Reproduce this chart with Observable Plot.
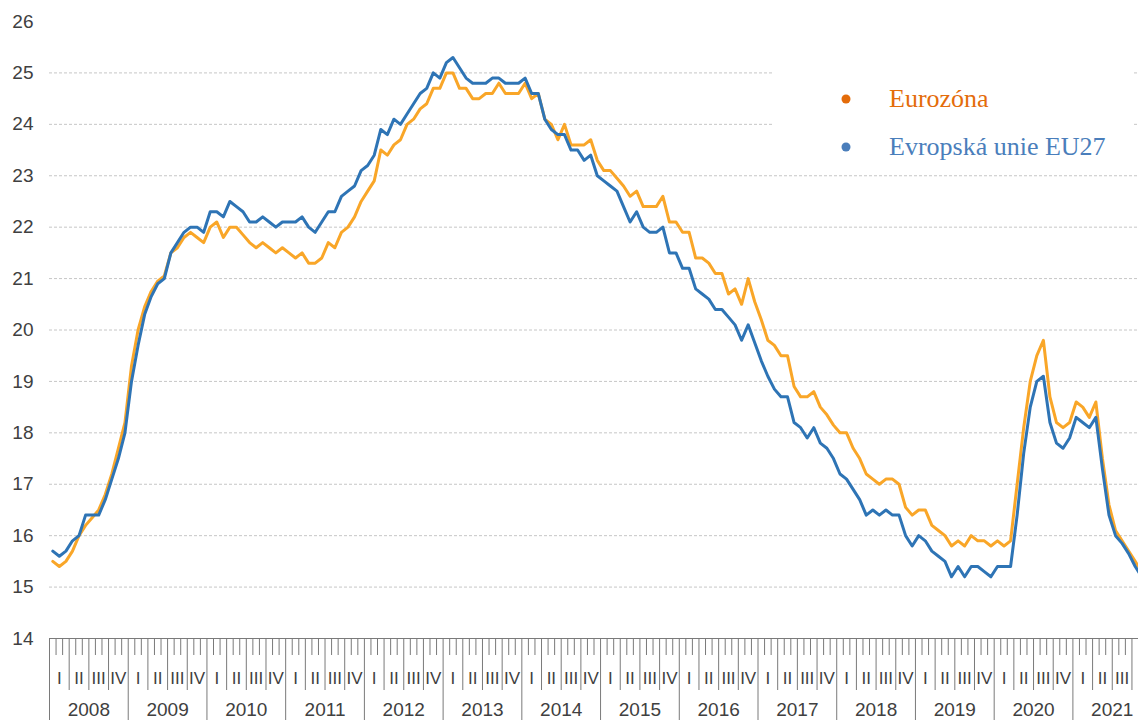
<!DOCTYPE html>
<html><head><meta charset="utf-8">
<script src="https://cdn.jsdelivr.net/npm/d3@7"></script>
<script src="https://cdn.jsdelivr.net/npm/@observablehq/plot@0.6"></script>
<style>
html,body{margin:0;padding:0;background:#fff;overflow:hidden}
#wrap{position:relative;width:1138px;height:720px;overflow:hidden}
#legend{position:absolute;left:773px;top:62px}
</style></head><body><div id="wrap"></div>
<script>
const years = [2008,2009,2010,2011,2012,2013,2014,2015,2016,2017,2018,2019,2020,2021];
const quarterNames = ["I","II","III","IV"];
const yTicks = [14,15,16,17,18,19,20,21,22,23,24,25,26];
const gridLevels = [15,16,17,18,19,20,21,22,23,24,25];
const seriesNames = ["Eurozóna", "Evropská unie EU27"];
const lineColors = ["#F9A628", "#2E74B5"];
const legendColors = ["#E46C0A", "#4A7EBB"];

// monthly values from Jan 2008
const eurozone = [
  15.5,15.4,15.5,15.7,16.0,16.2,16.35,16.5,16.8,17.2,17.7,18.2,
  19.3,20.0,20.45,20.75,20.95,21.05,21.5,21.6,21.8,21.9,21.8,21.7,
  22.0,22.1,21.8,22.0,22.0,21.85,21.7,21.6,21.7,21.6,21.5,21.6,
  21.5,21.4,21.5,21.3,21.3,21.4,21.7,21.6,21.9,22.0,22.2,22.5,
  22.7,22.9,23.5,23.4,23.6,23.7,24.0,24.1,24.3,24.4,24.7,24.7,
  25.0,25.0,24.7,24.7,24.5,24.5,24.6,24.6,24.8,24.6,24.6,24.6,
  24.8,24.5,24.6,24.1,24.0,23.7,24.0,23.6,23.6,23.6,23.7,23.3,
  23.1,23.1,22.95,22.8,22.6,22.7,22.4,22.4,22.4,22.6,22.1,22.1,
  21.9,21.9,21.4,21.4,21.3,21.1,21.1,20.7,20.8,20.5,21.0,20.55,
  20.2,19.8,19.7,19.5,19.5,18.9,18.7,18.7,18.8,18.5,18.35,18.15,
  18.0,18.0,17.7,17.5,17.2,17.1,17.0,17.1,17.1,17.0,16.55,16.4,
  16.5,16.5,16.2,16.1,16.0,15.8,15.9,15.8,16.0,15.9,15.9,15.8,
  15.9,15.8,15.9,17.0,18.1,19.0,19.5,19.8,18.7,18.2,18.1,18.2,
  18.6,18.5,18.3,18.6,17.5,16.6,16.1,15.9,15.7,15.5,15.3
];
const eu27 = [
  15.7,15.6,15.7,15.9,16.0,16.4,16.4,16.4,16.7,17.1,17.5,18.0,
  19.0,19.7,20.3,20.65,20.9,21.0,21.5,21.7,21.9,22.0,22.0,21.9,
  22.3,22.3,22.2,22.5,22.4,22.3,22.1,22.1,22.2,22.1,22.0,22.1,
  22.1,22.1,22.2,22.0,21.9,22.1,22.3,22.3,22.6,22.7,22.8,23.1,
  23.2,23.4,23.9,23.8,24.1,24.0,24.2,24.4,24.6,24.7,25.0,24.9,
  25.2,25.3,25.1,24.9,24.8,24.8,24.8,24.9,24.9,24.8,24.8,24.8,
  24.9,24.6,24.6,24.1,23.9,23.8,23.8,23.5,23.5,23.3,23.4,23.0,
  22.9,22.8,22.7,22.4,22.1,22.3,22.0,21.9,21.9,22.0,21.5,21.5,
  21.2,21.2,20.8,20.7,20.6,20.4,20.4,20.25,20.1,19.8,20.1,19.75,
  19.4,19.1,18.85,18.7,18.7,18.2,18.1,17.9,18.1,17.8,17.7,17.5,
  17.2,17.1,16.9,16.7,16.4,16.5,16.4,16.5,16.4,16.4,16.0,15.8,
  16.0,15.9,15.7,15.6,15.5,15.2,15.4,15.2,15.4,15.4,15.3,15.2,
  15.4,15.4,15.4,16.4,17.6,18.5,19.0,19.1,18.2,17.8,17.7,17.9,
  18.3,18.2,18.1,18.3,17.3,16.4,16.0,15.85,15.65,15.4,15.2
];

const visibleMonths = 166; // Jan 2008 .. Oct 2021 fits in the window
const toRows = arr => arr.map((v, i) => ({m: i + 0.5, v}));
const series = [eurozone, eu27].map(toRows);

const allMonths = d3.range(0, years.length * 12 + 1);
const monthTicks = allMonths.filter(k => k % 3 !== 0);
const quarterTicks = allMonths.filter(k => k % 3 === 0 && k % 12 !== 0);
const yearTicks = allMonths.filter(k => k % 12 === 0);
const quarterCenters = [];
const quarterLabel = new Map();
years.forEach((y, yi) => quarterNames.forEach((q, qi) => {
  const c = yi * 12 + qi * 3 + 1.5;
  if (c < visibleMonths) { quarterCenters.push(c); quarterLabel.set(c, q); }
}));
const yearCenters = years.map((y, yi) => yi * 12 + 6);
const yearLabel = new Map(years.map((y, yi) => [yi * 12 + 6, String(y)]));

const tickStroke = "#7a7a7a";
const chart = Plot.plot({
  width: 1138, height: 720,
  marginLeft: 49, marginRight: 0, marginTop: 21, marginBottom: 82,
  x: {domain: [0, visibleMonths], label: null},
  y: {domain: [14, 26], label: null},
  style: {fontFamily: "'Liberation Sans', Arial, sans-serif", color: "#404040", background: "white"},
  marks: [
    Plot.gridY(gridLevels, {stroke: "#c6c6c6", strokeOpacity: 1, strokeDasharray: "3,2"}),
    Plot.axisY(yTicks, {tickSize: 0, tickPadding: 16, fontSize: 19, tickFormat: d => String(d)}),
    Plot.ruleY([14], {stroke: tickStroke}),
    Plot.axisX(monthTicks, {tickSize: 17, tickFormat: () => "", stroke: tickStroke}),
    Plot.axisX(quarterTicks, {tickSize: 52, tickFormat: () => "", stroke: tickStroke}),
    Plot.axisX(yearTicks, {tickSize: 82, tickFormat: () => "", stroke: tickStroke}),
    Plot.axisX(quarterCenters, {tickSize: 0, tickPadding: 33, fontSize: 17, tickFormat: d => quarterLabel.get(d)}),
    Plot.axisX(yearCenters, {tickSize: 0, tickPadding: 64, fontSize: 19, tickFormat: d => yearLabel.get(d)}),
    Plot.line(series[0], {x: "m", y: "v", stroke: lineColors[0], strokeWidth: 3}),
    Plot.line(series[1], {x: "m", y: "v", stroke: lineColors[1], strokeWidth: 3})
  ]
});
const wrap = document.getElementById("wrap");
wrap.appendChild(chart);

// legend
const lg = d3.select(wrap).append("svg").attr("id", "legend").attr("width", 359).attr("height", 103);
lg.append("rect").attr("width", 359).attr("height", 103).attr("fill", "white");
seriesNames.forEach((name, i) => {
  const cy = 37 + i * 48;
  lg.append("circle").attr("cx", 73).attr("cy", cy).attr("r", 4.5).attr("fill", legendColors[i]);
  lg.append("text").attr("x", 116).attr("y", cy + 8).attr("fill", legendColors[i])
    .attr("font-family", "'Liberation Serif', 'Times New Roman', serif").attr("font-size", 26)
    .text(name);
});
</script></body></html>
